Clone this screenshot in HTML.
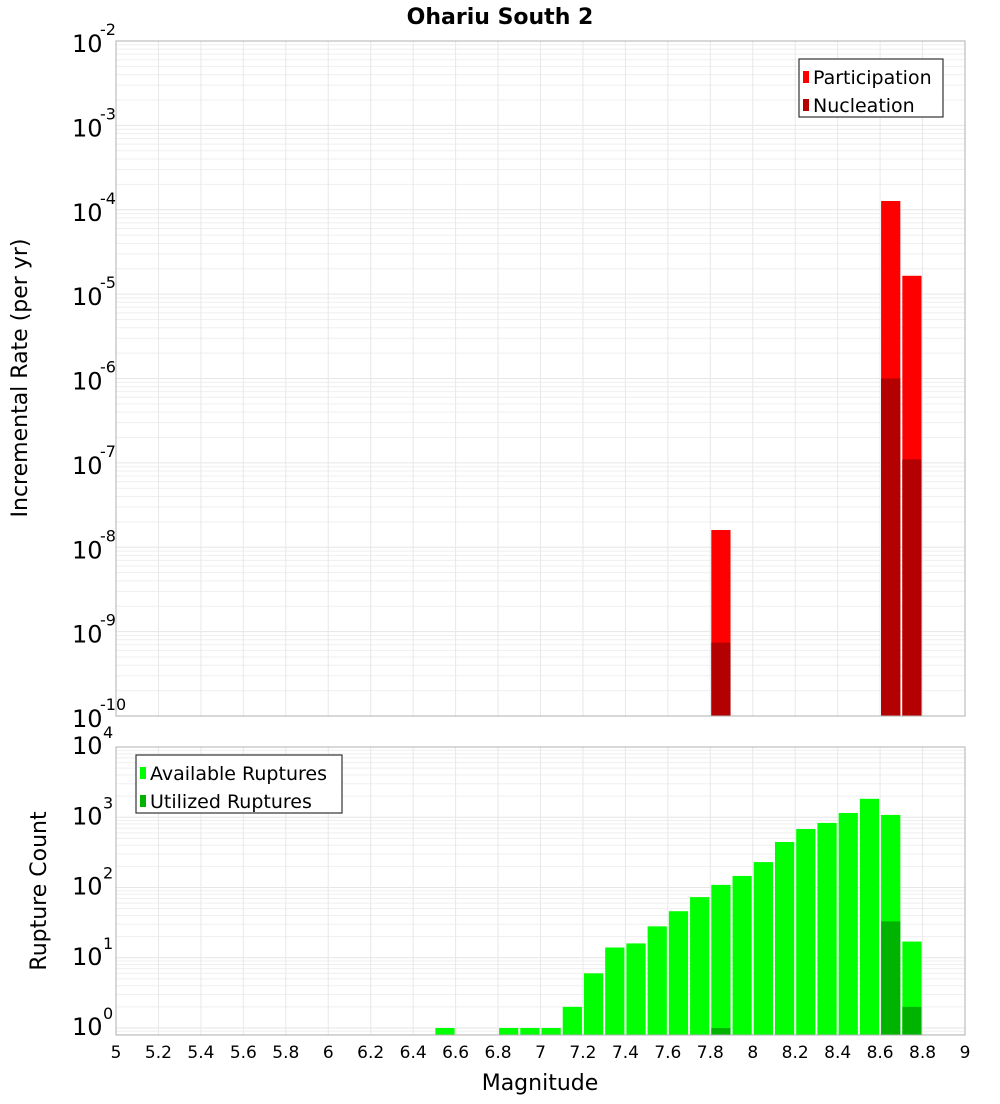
<!DOCTYPE html>
<html><head><meta charset="utf-8"><style>
body{margin:0;background:#fff;font-family:"DejaVu Sans","Liberation Sans",sans-serif}
svg text{font-family:"DejaVu Sans","Liberation Sans",sans-serif}
</style></head><body>
<svg id="c" width="1000" height="1100" xmlns="http://www.w3.org/2000/svg">
<text x="500" y="24" text-anchor="middle" font-size="22" font-weight="bold">Ohariu South 2</text>
<text transform="translate(27,378) rotate(-90)" text-anchor="middle" font-size="22">Incremental Rate (per yr)</text>
<text transform="translate(46,891) rotate(-90)" text-anchor="middle" font-size="22">Rupture Count</text>
<text x="540" y="1090" text-anchor="middle" font-size="22">Magnitude</text>
</svg>
<script>
const mags=[6.55,6.85,6.95,7.05,7.15,7.25,7.35,7.45,7.55,7.65,7.75,7.85,7.95,8.05,8.15,8.25,8.35,8.45,8.55,8.65,8.75];
const available=[1,1,1,1,2,6,14,16,28,46,73,109,146,230,445,680,830,1150,1830,1080,17];
const rateMags=[7.85,8.65,8.75];
const participation=[1.6e-8,1.27e-4,1.65e-5];
const nucleation=[7.4e-10,1.0e-6,1.1e-7];
const utilMags=[7.85,8.65,8.75];
const utilized=[1,33,2];
const xTicks=[5,5.2,5.4,5.6,5.8,6,6.2,6.4,6.6,6.8,7,7.2,7.4,7.6,7.8,8,8.2,8.4,8.6,8.8,9];
const topExp=[-2,-3,-4,-5,-6,-7,-8,-9,-10];
const botExp=[4,3,2,1,0];

const svg=document.getElementById('c');const NS='http://www.w3.org/2000/svg';
function el(t,a,p){const e=document.createElementNS(NS,t);for(const k in a)e.setAttribute(k,a[k]);(p||svg).appendChild(e);return e;}
const X0=116,X1=965;
const x=m=>X0+(m-5)/4*(X1-X0);
const T0=41,T1=716;
const yT=v=>T0+(-2-Math.log10(v))/8*(T1-T0);
const B0=747,BD=70.25,B1=1035;
const yB=v=>B0+(4-Math.log10(v))*BD;

function panel(top,bot,ymin,ymaxExp,yf,name){
  const g=el('g',{});
  
  for(let e=Math.floor(ymin)-1;e<=ymaxExp;e++)for(let k=1;k<10;k++){
    const v=k*Math.pow(10,e);const y=yf(v);
    if(y<top-0.5||y>bot+0.5)continue;
    el('line',{x1:X0,x2:X1,y1:y,y2:y,stroke:k==1?'#e6e6e6':'#efefef','stroke-width':1},g);
  }
  xTicks.forEach(t=>el('line',{x1:x(t),x2:x(t),y1:top,y2:bot,stroke:'#e8e8e8'},g));
}
panel(T0,T1,-10,-2,yT,'top');
panel(B0,B1,-1,4,yB,'bottom');

const w=(X1-X0)/40;
function bar(m,v,yf,base,fill,name){
  const r=el('rect',{x:x(m)-w/2+1,y:yf(v),width:w-2,height:base-yf(v),fill:fill});
  
}
rateMags.forEach((m,i)=>bar(m,participation[i],yT,T1,'#ff0000','participation-bar'));
rateMags.forEach((m,i)=>bar(m,nucleation[i],yT,T1,'#b30000','nucleation-bar'));
mags.forEach((m,i)=>bar(m,available[i],yB,B1,'#00ff00','available-bar'));
utilMags.forEach((m,i)=>bar(m,utilized[i],yB,B1,'#00b300','utilized-bar'));

el('rect',{x:X0,y:T0,width:X1-X0,height:T1-T0,fill:'none',stroke:'#b0b0b0'});
el('rect',{x:X0,y:B0,width:X1-X0,height:B1-B0,fill:'none',stroke:'#b0b0b0'});

topExp.forEach(e=>{const y=yT(Math.pow(10,e));
  const t=el('text',{x:72,y:y+11,'font-size':24});t.textContent='10';
  
  const s=el('text',{x:100,y:y-6,'font-size':16});s.textContent=String(e);
  });
botExp.forEach(e=>{const y=yB(Math.pow(10,e));
  const t=el('text',{x:72,y:y+7,'font-size':24});t.textContent='10';
  
  const s=el('text',{x:103,y:y-9,'font-size':16});s.textContent=String(e);
  });
xTicks.forEach(t=>{const tx=el('text',{x:x(t),y:1058,'text-anchor':'middle','font-size':17});tx.textContent=String(t);
  });

function legend(x0,y0,wd,items,name){
  const g=el('g',{});
  el('rect',{x:x0,y:y0,width:wd,height:58,fill:'#fff',stroke:'#333','stroke-width':1.2},g);
  items.forEach((it,i)=>{const yy=y0+18+i*28;
    el('rect',{x:x0+4,y:yy-6,width:6,height:12,fill:it[1]},g);
    const t=el('text',{x:x0+14,y:yy+7,'font-size':19},g);t.textContent=it[0];});
}
legend(799,59,144,[['Participation','#ff0000'],['Nucleation','#b30000']],'top-legend');
legend(136,755,206,[['Available Ruptures','#00ff00'],['Utilized Ruptures','#00b300']],'bottom-legend');
</script>
</body></html>
